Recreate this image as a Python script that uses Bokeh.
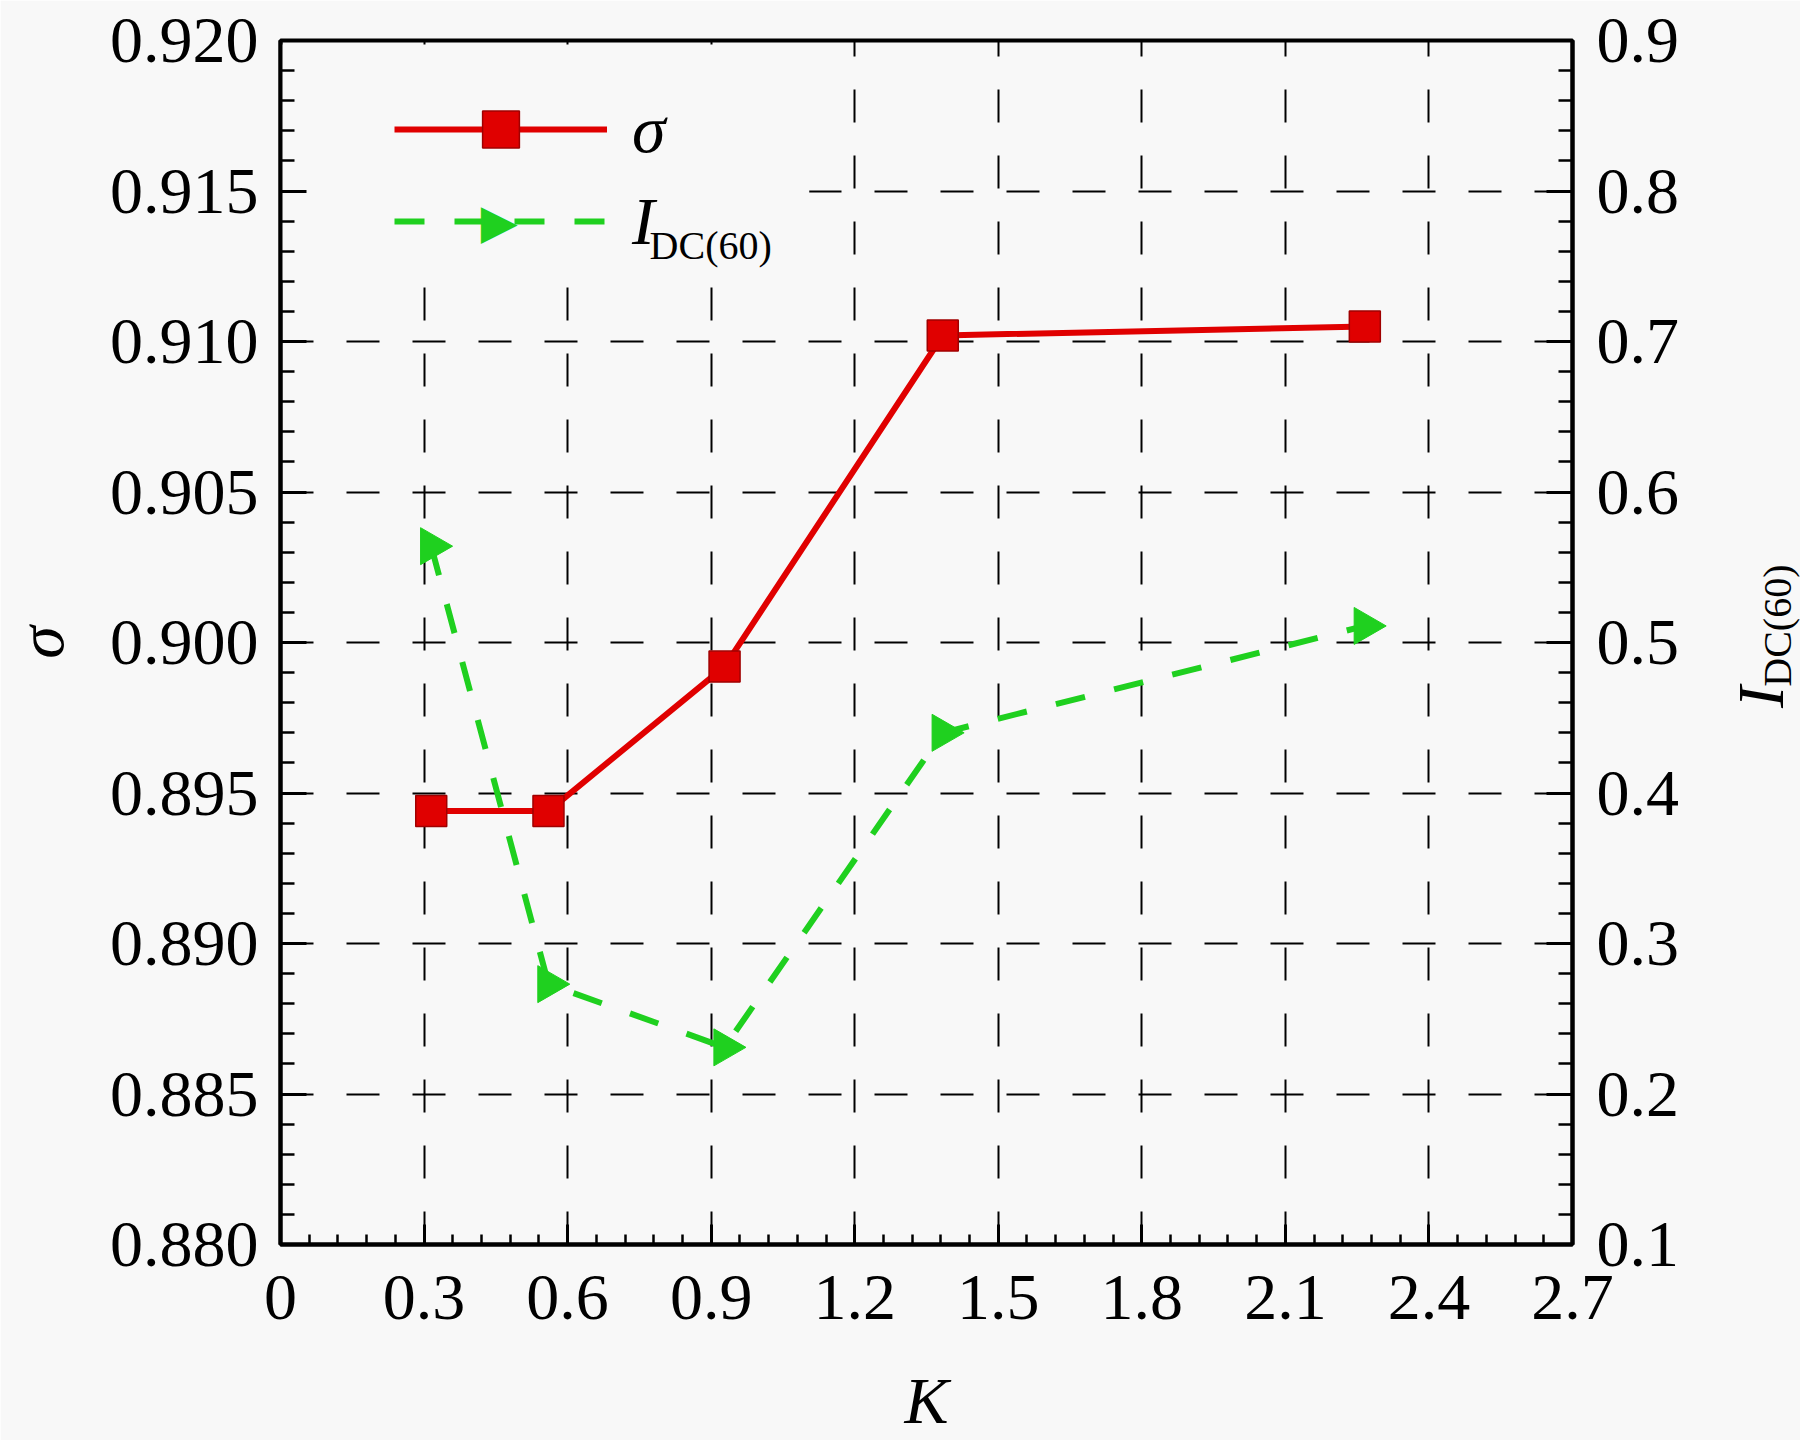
import numpy as np
from bokeh.plotting import figure
from bokeh.models import (Range1d, LinearAxis, FixedTicker, CustomJSTickFormatter,
                          NumeralTickFormatter, Legend, LegendItem, Label,
                          BoxAnnotation, ColumnDataSource)
from bokeh.embed import file_html
from bokeh.resources import INLINE

# ---------------- data ----------------
K = [0.315, 0.560, 0.928, 1.384, 2.266]
SIGMA = [0.8944, 0.8944, 0.8992, 0.9102, 0.9105]
IDC60 = [0.564, 0.273, 0.231, 0.440, 0.511]

X_TICKS = [0, 0.3, 0.6, 0.9, 1.2, 1.5, 1.8, 2.1, 2.4, 2.7]
Y_LEFT_TICKS = [0.880, 0.885, 0.890, 0.895, 0.900, 0.905, 0.910, 0.915, 0.920]
Y_RIGHT_TICKS = [0.1, 0.2, 0.3, 0.4, 0.5, 0.6, 0.7, 0.8, 0.9]

X_MINOR = [round(i * 0.06, 3) for i in range(46)]
Y_LEFT_MINOR = [round(0.880 + i * 0.001, 4) for i in range(41)]
Y_RIGHT_MINOR = [round(0.1 + i * 0.02, 3) for i in range(41)]

# ---------------- style ----------------
BG = "#f8f8f8"
FONT = "Liberation Serif"
RED = "#e00000"
DARKRED = "#a00000"
GREEN = "#1fd01f"
TICK_SIZE = "66px"

p = figure(width=1800, height=1440,
           x_range=Range1d(0, 2.7), y_range=Range1d(0.880, 0.920),
           output_backend="svg", toolbar_location=None,
           min_border_left=272, min_border_right=228,
           min_border_top=40, min_border_bottom=196,
           background_fill_color=BG, border_fill_color=BG)
p.extra_y_ranges = {"right": Range1d(0.1, 0.9)}

p.outline_line_color = "black"
p.outline_line_width = 4

def style_axis(ax, tick_in, minor_in):
    ax.axis_line_color = "black"
    ax.axis_line_width = 4
    ax.major_tick_in = tick_in
    ax.major_tick_out = 0
    ax.minor_tick_in = minor_in
    ax.minor_tick_out = 0
    ax.major_tick_line_width = 3
    ax.minor_tick_line_width = 2.5
    ax.major_tick_line_color = "black"
    ax.minor_tick_line_color = "black"
    ax.major_label_text_font = FONT
    ax.major_label_text_font_size = TICK_SIZE
    ax.major_label_text_color = "black"
    ax.axis_label_text_font = FONT
    ax.axis_label_text_font_size = "66px"
    ax.axis_label_text_font_style = "italic"
    ax.axis_label_text_color = "black"

xax = p.below[0]
xax.ticker = FixedTicker(ticks=X_TICKS, minor_ticks=X_MINOR)
xax.formatter = CustomJSTickFormatter(code="return (Math.round(tick*10)/10).toString();")
style_axis(xax, 20, 10)
xax.major_label_standoff = 31
xax.axis_label = "K"
xax.axis_label_standoff = 42

yax = p.left[0]
yax.ticker = FixedTicker(ticks=Y_LEFT_TICKS, minor_ticks=Y_LEFT_MINOR)
yax.formatter = NumeralTickFormatter(format="0.000")
style_axis(yax, 26, 14)
yax.major_label_standoff = 22
yax.axis_label = "σ"
yax.axis_label_standoff = 30

rax = LinearAxis(y_range_name="right",
                 ticker=FixedTicker(ticks=Y_RIGHT_TICKS, minor_ticks=Y_RIGHT_MINOR),
                 formatter=CustomJSTickFormatter(code="return tick.toFixed(1);"))
style_axis(rax, 26, 14)
rax.major_label_standoff = 24
p.add_layout(rax, "right")

p.grid.grid_line_color = "black"
p.grid.grid_line_width = 2
p.grid.grid_line_dash = "33 33"

# mask behind legend (hides grid like the reference legend box)
mask = BoxAnnotation(left=0, right=1.105, top=0.91987, bottom=0.91203,
                     fill_color=BG, fill_alpha=1.0, line_alpha=0, level="underlay")
p.add_layout(mask)

src = ColumnDataSource(dict(k=K, sigma=SIGMA, idc=IDC60))

r1l = p.line("k", "sigma", source=src, line_color=RED, line_width=6)
r1m = p.scatter("k", "sigma", source=src, marker="square", size=31,
                fill_color=RED, line_color=DARKRED, line_width=1.5)
r2l = p.line("k", "idc", source=src, y_range_name="right", line_color=GREEN,
             line_width=6, line_dash="30 30")
r2m = p.scatter("k", "idc", source=src, y_range_name="right", marker="triangle",
                angle=-np.pi / 2, size=37, fill_color=GREEN, line_color=GREEN)

legend = Legend(items=[LegendItem(label="σ", renderers=[r1l, r1m]),
                       LegendItem(label="I", renderers=[r2l])],
                location=(114, 977), orientation="vertical",
                glyph_width=213, glyph_height=92, label_height=92,
                spacing=0, padding=0, margin=0, label_standoff=25,
                label_text_font=FONT, label_text_font_style="italic",
                label_text_font_size="68px", label_text_color="black",
                background_fill_alpha=0, border_line_alpha=0)
p.add_layout(legend)

# right-pointing triangle key of the second legend entry
p.add_layout(Label(x=0.4569, y=0.91399, text="▶", text_align="center",
                   text_baseline="middle", text_font="DejaVu Sans",
                   text_font_size="48px", text_color=GREEN))

# subscript of legend label
p.add_layout(Label(x=0.899, y=0.91319, text="DC(60)", text_align="center",
                   text_baseline="middle", text_font=FONT, text_font_size="40px",
                   text_color="black"))

# right axis title I_DC(60) (placed in the right side panel so it is not clipped)
p.add_layout(Label(x=3.093, y=0.89819, text="I", angle=np.pi / 2,
                   text_align="center", text_baseline="middle", text_font=FONT,
                   text_font_style="italic", text_font_size="66px",
                   text_color="black"), "right")
p.add_layout(Label(x=3.128, y=0.90056, text="DC(60)", angle=np.pi / 2,
                   text_align="center", text_baseline="middle", text_font=FONT,
                   text_font_size="40px", text_color="black"), "right")

open("out.html", "w").write(file_html(p, INLINE))
